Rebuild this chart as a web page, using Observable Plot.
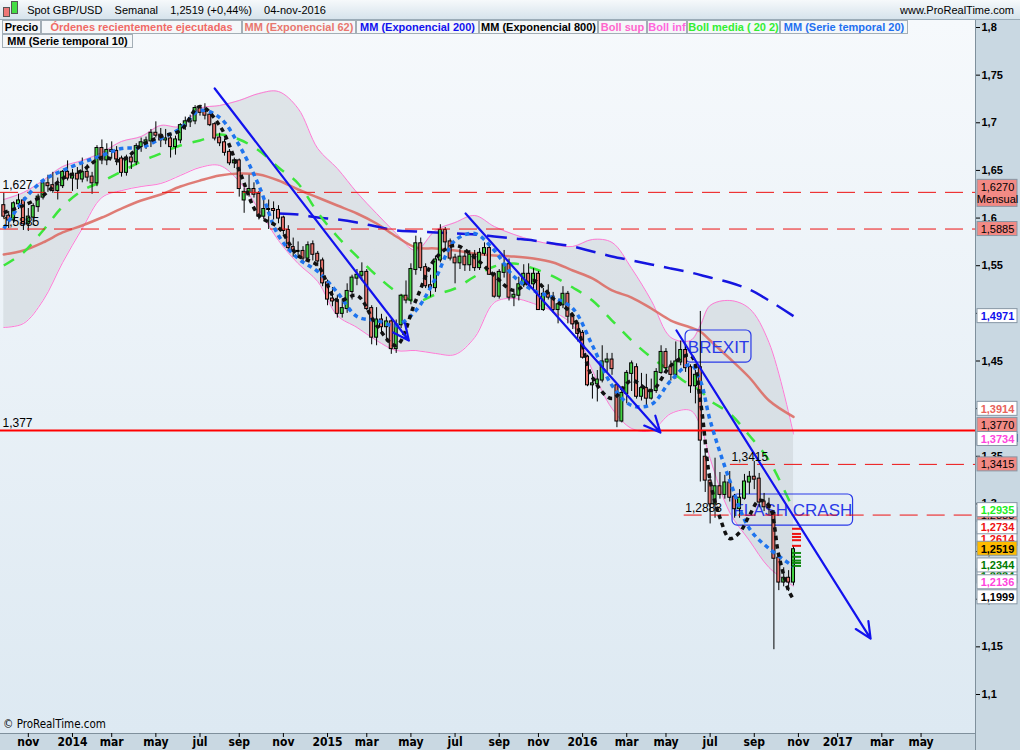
<!DOCTYPE html>
<html>
<head>
<meta charset="utf-8">
<script src="https://cdn.jsdelivr.net/npm/d3@7"></script>
<script src="https://cdn.jsdelivr.net/npm/@observablehq/plot@0.6"></script>
<style>
  body { margin: 0; background: #fff; }
  #wrap { position: relative; width: 1020px; height: 750px; overflow: hidden; font-family: "Liberation Sans", Arial, sans-serif; color: #000; }
  .bg { position: absolute; box-sizing: border-box; }
  #hdr { left: 0; top: 0; width: 1020px; height: 20px; background: linear-gradient(#f6f9fb, #d6e3ec); border-bottom: 1px solid #9aabb7; }
  #plotbg { left: 0; top: 20px; width: 975px; height: 713px; background: linear-gradient(#f6f9fc, #dde9f2); }
  #rpanel { left: 975px; top: 20px; width: 45px; height: 730px; background: #c9d8e2; border-left: 1px solid #7f909c; }
  #bpanel { left: 0; top: 733px; width: 975px; height: 17px; background: #c9d8e2; border-top: 1px solid #7f909c; }
  #chart { position: absolute; left: 0; top: 0; }
  #chart svg { display: block; }
  #hdrtext { position: absolute; left: 0; top: 0; height: 20px; line-height: 21px; font-size: 11px; white-space: pre; }
  #site { position: absolute; right: 6px; top: 0; height: 20px; line-height: 21px; font-size: 11px; }
  .leg { position: absolute; height: 14px; line-height: 13px; font-size: 11px; font-weight: bold; text-align: center; background: #f4f7f9; border: 1px solid #a3aeb6; box-sizing: border-box; white-space: nowrap; overflow: visible; }
  #copy { position: absolute; left: 3px; top: 717px; font-family: "Liberation Sans Narrow", "DejaVu Sans Condensed", sans-serif; font-size: 11.5px; }
  [aria-label^="x-axis"] text { font-family: "Liberation Sans Narrow", "DejaVu Sans Condensed", sans-serif; font-size: 12px; font-weight: bold; }
  [aria-label^="y-axis"] text { font-family: "Liberation Sans", Arial, sans-serif; font-size: 11px; font-weight: bold; }
</style>
</head>
<body>
<div id="wrap">
  <div class="bg" id="hdr"></div>
  <div class="bg" id="plotbg"></div>
  <div class="bg" id="rpanel"></div>
  <div class="bg" id="bpanel"></div>
  <div id="chart"></div>
  <div id="hdrtext"><span style="display:inline-block;width:5px;height:8px;background:#e77;border:1px solid #555;margin-left:3px;vertical-align:-3px"></span><span style="display:inline-block;width:5px;height:11px;background:#4d4;border:1px solid #555;margin-left:1px;vertical-align:0px"></span>   Spot GBP/USD    Semanal    1,2519 (+0,44%)    04-nov-2016</div>
  <div id="site">www.ProRealTime.com</div>
  <div class="leg" style="left:2px;top:20px;width:39px;color:#000">Precio</div>
  <div class="leg" style="left:41px;top:20px;width:201px;color:#f06a66">Órdenes recientemente ejecutadas</div>
  <div class="leg" style="left:242px;top:20px;width:114px;color:#e8776f">MM (Exponencial 62)</div>
  <div class="leg" style="left:356px;top:20px;width:123px;color:#1111ee">MM (Exponencial 200)</div>
  <div class="leg" style="left:479px;top:20px;width:119px;color:#000">MM (Exponencial 800)</div>
  <div class="leg" style="left:598px;top:20px;width:49px;color:#ff66cc">Boll sup</div>
  <div class="leg" style="left:647px;top:20px;width:40px;color:#ff66dd">Boll inf</div>
  <div class="leg" style="left:687px;top:20px;width:93px;color:#33ee33">Boll media ( 20 2)</div>
  <div class="leg" style="left:780px;top:20px;width:128px;color:#1f70f0">MM (Serie temporal 20)</div>
  <div class="leg" style="left:2px;top:34px;width:131px;color:#000">MM (Serie temporal 10)</div>
  <div id="copy">© ProRealTime.com</div>
</div>
<script>
// ---------- weekly candles (week starting Monday 2013-09-30) ----------
const firstWeek = "2013-09-30";
const open = [
1.613,1.602,1.598,1.615,1.618,1.594,1.601,1.612,1.622,1.636,
1.634,1.629,1.634,1.648,1.642,1.646,1.641,1.648,1.643,1.637,
1.673,1.661,1.671,1.670,1.662,1.648,1.663,1.659,1.675,1.679,
1.681,1.689,1.687,1.682,1.683,1.675,1.682,1.697,1.701,1.702,
1.715,1.711,1.708,1.698,1.684,1.679,1.669,1.658,1.660,1.619,
1.627,1.630,1.625,1.602,1.609,1.609,1.608,1.600,1.587,1.569,
1.565,1.565,1.558,1.572,1.562,1.555,1.532,1.515,1.513,1.500,
1.505,1.523,1.537,1.540,1.543,1.505,1.475,1.493,1.486,1.491,
1.463,1.488,1.518,1.514,1.546,1.573,1.548,1.529,1.527,1.556,
1.587,1.575,1.558,1.553,1.559,1.551,1.561,1.548,1.563,1.568,
1.541,1.518,1.543,1.551,1.517,1.519,1.530,1.541,1.531,1.541,
1.504,1.520,1.517,1.504,1.509,1.520,1.497,1.489,1.479,1.454,
1.425,1.426,1.430,1.449,1.451,1.424,1.387,1.416,1.437,1.443,
1.413,1.421,1.411,1.419,1.438,1.459,1.443,1.436,1.449,1.461,
1.443,1.424,1.443,1.349,1.324,1.300,1.318,1.310,1.322,1.307,
1.295,1.306,1.323,1.328,1.326,1.302,1.297,1.290,1.243,1.218,
1.222,1.218];
const high = [
1.626,1.607,1.617,1.625,1.621,1.610,1.615,1.625,1.638,1.645,
1.648,1.642,1.650,1.660,1.651,1.653,1.663,1.656,1.648,1.676,
1.682,1.678,1.680,1.675,1.665,1.666,1.669,1.678,1.684,1.685,
1.693,1.701,1.694,1.693,1.686,1.686,1.699,1.706,1.708,1.718,
1.718,1.720,1.711,1.700,1.689,1.683,1.672,1.663,1.662,1.631,
1.645,1.637,1.628,1.621,1.619,1.617,1.613,1.602,1.592,1.579,
1.575,1.570,1.575,1.576,1.565,1.558,1.535,1.527,1.519,1.515,
1.531,1.540,1.546,1.553,1.546,1.508,1.506,1.499,1.496,1.494,
1.493,1.520,1.534,1.552,1.581,1.579,1.552,1.540,1.560,1.593,
1.590,1.578,1.562,1.567,1.566,1.566,1.566,1.568,1.574,1.570,
1.543,1.546,1.566,1.557,1.522,1.538,1.551,1.552,1.547,1.544,
1.526,1.530,1.522,1.511,1.528,1.523,1.499,1.492,1.482,1.456,
1.436,1.440,1.466,1.458,1.458,1.425,1.423,1.440,1.450,1.447,
1.437,1.436,1.431,1.442,1.466,1.463,1.450,1.470,1.471,1.467,
1.446,1.440,1.502,1.353,1.332,1.348,1.333,1.330,1.334,1.310,
1.315,1.331,1.334,1.3445,1.332,1.311,1.306,1.293,1.246,1.233,
1.230,1.256];
const low = [
1.599,1.589,1.594,1.609,1.587,1.586,1.592,1.606,1.619,1.627,
1.626,1.619,1.631,1.639,1.628,1.630,1.637,1.638,1.625,1.633,
1.656,1.655,1.662,1.655,1.643,1.644,1.651,1.655,1.669,1.672,
1.674,1.684,1.674,1.677,1.663,1.666,1.678,1.692,1.695,1.698,
1.707,1.703,1.696,1.681,1.675,1.665,1.655,1.652,1.622,1.605,
1.622,1.621,1.598,1.598,1.588,1.598,1.594,1.582,1.565,1.559,
1.559,1.553,1.556,1.555,1.549,1.528,1.508,1.507,1.495,1.495,
1.500,1.514,1.529,1.534,1.503,1.467,1.466,1.479,1.470,1.457,
1.458,1.484,1.510,1.509,1.540,1.544,1.526,1.517,1.522,1.553,
1.567,1.555,1.531,1.546,1.544,1.544,1.544,1.545,1.560,1.540,
1.516,1.515,1.537,1.513,1.507,1.513,1.527,1.525,1.525,1.503,
1.502,1.514,1.500,1.489,1.505,1.489,1.483,1.470,1.452,1.423,
1.410,1.407,1.427,1.438,1.435,1.380,1.385,1.405,1.418,1.410,
1.408,1.401,1.409,1.416,1.436,1.437,1.429,1.431,1.445,1.438,
1.416,1.405,1.323,1.312,1.279,1.285,1.305,1.305,1.302,1.285,
1.285,1.304,1.310,1.315,1.296,1.292,1.288,1.147,1.209,1.213,
1.208,1.214];
const close = [
1.602,1.598,1.615,1.618,1.594,1.601,1.612,1.622,1.636,1.634,
1.629,1.634,1.648,1.642,1.646,1.641,1.648,1.643,1.637,1.673,
1.661,1.671,1.670,1.662,1.648,1.663,1.659,1.675,1.679,1.681,
1.689,1.687,1.682,1.683,1.675,1.682,1.697,1.701,1.702,1.715,
1.711,1.708,1.698,1.684,1.679,1.669,1.658,1.660,1.631,1.627,
1.630,1.625,1.602,1.609,1.609,1.608,1.600,1.587,1.569,1.565,
1.565,1.558,1.571,1.562,1.555,1.532,1.515,1.513,1.500,1.505,
1.523,1.537,1.540,1.543,1.505,1.475,1.493,1.486,1.491,1.463,
1.488,1.518,1.514,1.546,1.573,1.548,1.529,1.527,1.556,1.587,
1.575,1.558,1.553,1.559,1.551,1.561,1.548,1.563,1.568,1.541,
1.518,1.543,1.551,1.517,1.519,1.530,1.541,1.531,1.541,1.504,
1.520,1.517,1.504,1.509,1.520,1.497,1.489,1.479,1.454,1.425,
1.426,1.430,1.449,1.451,1.442,1.387,1.416,1.437,1.447,1.413,
1.421,1.411,1.419,1.438,1.459,1.443,1.436,1.449,1.461,1.443,
1.424,1.435,1.367,1.325,1.300,1.318,1.310,1.322,1.307,1.295,
1.306,1.323,1.328,1.326,1.302,1.297,1.296,1.243,1.218,1.222,
1.218,1.2519];

// ---------- indicators, read at sampled weeks (week index) ----------
const sampleWeeks = [0,4,8,12,16,20,24,28,32,36,40,44,48,52,56,60,64,68,72,76,80,84,88,92,96,100,104,108,112,116,120,124,128,132,136,140,142,144,148,152,156,161];
const bollSup = [1.6195,1.6268,1.6394,1.6541,1.6604,1.6688,1.6804,1.6856,1.6972,1.6961,1.7150,1.7181,1.7234,1.7307,1.7328,1.7150,1.6730,1.6520,1.6268,1.6048,1.5838,1.5660,1.5870,1.5953,1.6027,1.5911,1.5828,1.5765,1.5723,1.5702,1.5775,1.5744,1.5471,1.5135,1.4747,1.4715,1.4873,1.5082,1.5135,1.5051,1.4694,1.3734];
const bollInf = [1.4852,1.4893,1.5135,1.5534,1.5891,1.6216,1.6289,1.6331,1.6363,1.6447,1.6531,1.6552,1.6384,1.6090,1.5765,1.5523,1.5334,1.4977,1.4852,1.4715,1.4610,1.4610,1.4579,1.4568,1.4747,1.5114,1.5156,1.5103,1.5019,1.4873,1.4400,1.4001,1.3792,1.3771,1.3949,1.3981,1.3823,1.3477,1.2910,1.2616,1.2333,1.2136];
const bollMedia = [1.5502,1.5639,1.5870,1.6121,1.6289,1.6384,1.6489,1.6594,1.6678,1.6762,1.6814,1.6877,1.6825,1.6709,1.6531,1.6363,1.6058,1.5807,1.5597,1.5397,1.5229,1.5124,1.5198,1.5261,1.5387,1.5492,1.5523,1.5471,1.5387,1.5271,1.5135,1.4925,1.4715,1.4537,1.4390,1.4243,1.4190,1.4085,1.3949,1.3718,1.3456,1.2935];
const ema62 = [1.5618,1.5660,1.5744,1.5849,1.5922,1.6006,1.6100,1.6184,1.6247,1.6331,1.6394,1.6447,1.6468,1.6457,1.6394,1.6300,1.6216,1.6132,1.6048,1.5943,1.5807,1.5691,1.5681,1.5660,1.5628,1.5607,1.5597,1.5576,1.5534,1.5450,1.5366,1.5240,1.5166,1.5051,1.4925,1.4852,1.4810,1.4715,1.4526,1.4327,1.4085,1.3914];
const st20 = [1.5891,1.6184,1.6394,1.6499,1.6583,1.6657,1.6730,1.6741,1.6835,1.6940,1.7129,1.7055,1.6762,1.6342,1.5817,1.5576,1.5439,1.5219,1.4967,1.4925,1.4873,1.5030,1.5366,1.5765,1.5838,1.5660,1.5387,1.5240,1.5166,1.5051,1.4663,1.4243,1.4033,1.4043,1.4295,1.4463,1.4295,1.3876,1.3246,1.2742,1.2532,1.2344];
const ema200Weeks = [56,60,64,68,72,76,80,84,88,92,96,100,104,108,112,116,120,124,128,132,136,140,144,148,152,156,161];
const ema200 = [1.6048,1.6037,1.6006,1.5985,1.5953,1.5911,1.5870,1.5859,1.5849,1.5838,1.5828,1.5807,1.5786,1.5765,1.5733,1.5702,1.5649,1.5597,1.5555,1.5513,1.5471,1.5429,1.5376,1.5324,1.5250,1.5135,1.4971];
const st10Weeks = [0,4,8,12,16,20,24,28,32,36,40,44,48,52,56,60,64,68,72,76,80,84,88,92,96,100,104,108,112,116,120,124,128,132,136,140,142,144,146,148,150,152,154,156,158,160,161];
const st10 = [1.6058,1.6132,1.6237,1.6415,1.6499,1.6636,1.6604,1.6762,1.6856,1.6919,1.7171,1.6972,1.6499,1.6027,1.5901,1.5607,1.5502,1.5135,1.5187,1.4873,1.4663,1.5135,1.5576,1.5712,1.5586,1.5397,1.5240,1.5345,1.5156,1.4977,1.4327,1.4106,1.4295,1.4191,1.4453,1.4558,1.4085,1.3246,1.2857,1.2637,1.2700,1.2878,1.3036,1.2983,1.2459,1.2091,1.1999];

// ---------- drawn levels / annotations ----------
const levelsFull = [1.627, 1.5885];
const levelsFullText = ["1,627", "1,5885"];
const levelSolid = 1.377;
const levelSolidText = "1,377";
const levelsPart = [1.3415, 1.2883];
const levelsPartText = ["1,3415", "1,2883"];
const levelsPartStart = ["2016-08-02", "2016-05-28"];
const trendStart = ["2014-07-28", "2015-07-21", "2016-05-17"];
const trendStartPrice = [1.736, 1.6048, 1.482];
const trendEnd = ["2015-05-01", "2016-04-24", "2017-02-18"];
const trendEndPrice = [1.4715, 1.3749, 1.1587];
const boxText = ["BREXIT", "FLASH CRASH"];
const boxFrom = ["2016-05-30", "2016-08-05"];
const boxTo = ["2016-09-01", "2017-01-24"];
const boxTop = [1.482, 1.3099];
const boxBottom = [1.4484, 1.2773];
const boxTextDate = ["2016-07-16", "2016-10-30"];
const boxTextPrice = [1.4642, 1.2931];
const ordersSell = [1.2734, 1.2680, 1.2648, 1.2614, 1.2555];
const ordersBuy = [1.2480, 1.2440, 1.2400, 1.2375, 1.2344];

// ---------- right-axis value tags ----------
const tagValues = [1.6270, 1.5885, 1.4971, 1.3770, 1.3914, 1.3734, 1.3415, 1.2883, 1.2614, 1.2334, 1.2935, 1.2734, 1.2519, 1.2344, 1.2136, 1.1999];
const tagSuffix = ["Mensual", "", "", "Mensual", "", "", "", "", "", "", "", "", "", "", "", ""];
const tagBg = ["#f28a85","#f28a85","#ffffff","#f28a85","#ffffff","#ffffff","#f28a85","#f28a85","#ffffff","#ffffff","#ffffff","#ffffff","#ffbb00","#ffffff","#ffffff","#ffffff"];
const tagFg = ["#000","#000","#1111ee","#000","#e8625a","#ff44dd","#000","#000","#ee1111","#007a00","#22ee22","#ee1111","#000","#007a00","#ff44dd","#000"];
const tagBold = [false,false,true,false,true,true,false,false,true,true,true,true,true,true,true,true];
const tagNudgePx = [1,0,0,1,-8,5,0,0,-2,9,0,-2,-1,-1,-4,-2];

// ---------- axis ticks ----------
const xTickDates = ["2013-11-04","2014-01-06","2014-03-03","2014-05-05","2014-07-07","2014-09-01","2014-11-03","2015-01-05","2015-03-02","2015-05-04","2015-07-06","2015-09-07","2015-11-02","2016-01-04","2016-03-07","2016-05-02","2016-07-04","2016-09-05","2016-11-07","2017-01-02","2017-03-06","2017-05-01"];
const xTickLabels = ["nov","2014","mar","may","jul","sep","nov","2015","mar","may","jul","sep","nov","2016","mar","may","jul","sep","nov","2017","mar","may"];
const yTicks = [1.1,1.15,1.2,1.25,1.3,1.35,1.4,1.45,1.5,1.55,1.6,1.65,1.7,1.75,1.8];

// ---------- build ----------
const D = s => new Date(s);
const t0 = D(firstWeek).getTime();
const weekDate = k => new Date(t0 + k * 7 * 864e5);
const candles = close.map((c, i) => ({date: weekDate(i), open: open[i], high: high[i], low: low[i], close: c}));
const band = sampleWeeks.map((k, j) => ({date: weekDate(k), hi: bollSup[j], lo: bollInf[j], mid: bollMedia[j], ema: ema62[j], st: st20[j]}));
const e200 = ema200Weeks.map((k, j) => ({date: weekDate(k), v: ema200[j]}));
const s10 = st10Weeks.map((k, j) => ({date: weekDate(k), v: st10[j]}));
const trends = trendStart.map((s, j) => ({x1: D(s), y1: trendStartPrice[j], x2: D(trendEnd[j]), y2: trendEndPrice[j]}));
const boxes = boxText.map((t, j) => ({t, x1: D(boxFrom[j]), x2: D(boxTo[j]), y1: boxTop[j], y2: boxBottom[j], tx: D(boxTextDate[j]), ty: boxTextPrice[j]}));
const lastDate = weekDate(close.length - 1);
const orders = [...ordersSell.map(v => ({v, c: "#ee1111"})), ...ordersBuy.map(v => ({v, c: "#118a11"}))];

const xStart = D("2013-09-25T07:00:00Z"), xEnd = D("2017-07-17T17:00:00Z");
const yLo = 1.05907, yHi = 1.80735;
const plotTop = 20, plotBottom = 733;
const pxPerUnit = (plotBottom - plotTop) / (yHi - yLo);
const tickLabel = new Map(xTickDates.map((d, i) => [+D(d), xTickLabels[i]]));
const comma = v => String(v).replace(".", ",");

const tagMarks = tagValues.flatMap((v, j) => {
  const two = tagSuffix[j] !== "";
  const h = two ? 27 : 14;
  const row = [{v: v - tagNudgePx[j] / pxPerUnit, t: v.toFixed(4).replace(".", ",") + (two ? "\n" + tagSuffix[j] : "")}];
  return [
    Plot.rect(row, {x1: () => xEnd, x2: () => xEnd, y1: "v", y2: "v", insetLeft: 2, insetRight: -42, insetTop: -h / 2, insetBottom: -h / 2, fill: tagBg[j], stroke: "#8797a5", strokeWidth: 1}),
    Plot.text(row, {x: () => xEnd, y: "v", text: "t", dx: 22, fill: tagFg[j], fontWeight: tagBold[j] ? "bold" : "normal", fontSize: 11, lineHeight: 1.12})
  ];
});

const dash = {strokeLinecap: "butt", strokeLinejoin: "round", curve: "catmull-rom"};

const chart = Plot.plot({
  width: 1020, height: 750,
  marginTop: plotTop, marginBottom: 750 - plotBottom, marginLeft: 0, marginRight: 45,
  style: {background: "transparent", color: "#000", fontFamily: "Liberation Sans, Arial, sans-serif", fontSize: "11px"},
  color: {type: "identity"},
  x: {type: "utc", domain: [xStart, xEnd], ticks: xTickDates.map(D), tickFormat: d => tickLabel.get(+d) ?? "", tickSize: 4, tickPadding: 0, label: null},
  y: {domain: [yLo, yHi], axis: "right", ticks: yTicks, tickFormat: comma, tickSize: 4, tickPadding: 2, label: null},
  marks: [
    Plot.areaY(band, {x: "date", y1: "lo", y2: "hi", fill: "#c6cbd0", fillOpacity: 0.45, curve: "catmull-rom"}),
    Plot.line(band, {x: "date", y: "hi", stroke: "#ff7ad5", strokeWidth: 1, curve: "catmull-rom"}),
    Plot.line(band, {x: "date", y: "lo", stroke: "#ff7ad5", strokeWidth: 1, curve: "catmull-rom"}),
    Plot.line(band, {x: "date", y: "ema", stroke: "#dc665e", strokeOpacity: 0.85, strokeWidth: 2.5, curve: "catmull-rom"}),
    Plot.line(e200, {x: "date", y: "v", stroke: "#1515e0", strokeWidth: 2.5, strokeDasharray: "20,10", ...dash}),
    Plot.line(band, {x: "date", y: "mid", stroke: "#3ce63c", strokeWidth: 2.5, strokeDasharray: "12,11", ...dash}),
    Plot.rect(boxes, {x1: "x1", x2: "x2", y1: "y1", y2: "y2", fill: "none", stroke: "#2a3ae8", strokeWidth: 1.2, rx: 5}),
    Plot.text(boxes, {x: "tx", y: "ty", text: "t", fill: "#2a3ae8", fontSize: 17}),
    Plot.ruleX(candles, {x: "date", y1: "low", y2: "high", stroke: "#000", strokeWidth: 1}),
    Plot.rect(candles, {x1: "date", x2: "date", y1: "open", y2: "close", fill: d => d.close >= d.open ? "#43d243" : "#e8736c", stroke: "#000", strokeWidth: 1, insetLeft: -1.5, insetRight: -1.5, insetTop: -0.5, insetBottom: -0.5}),
    Plot.ruleY(levelsFull, {stroke: "#ee1111", strokeWidth: 1, strokeDasharray: "18,9"}),
    Plot.ruleY([levelSolid], {stroke: "#ff0000", strokeWidth: 2}),
    Plot.ruleY(levelsPart, {x1: (d, i) => D(levelsPartStart[i]), x2: () => xEnd, stroke: "#ee1111", strokeWidth: 1, strokeDasharray: "18,9"}),
    Plot.line(band, {x: "date", y: "st", stroke: "#1e74ee", strokeWidth: 3.5, strokeDasharray: "4.5,4", ...dash}),
    Plot.line(s10, {x: "date", y: "v", stroke: "#111", strokeWidth: 3.5, strokeDasharray: "4.5,4", ...dash}),
    Plot.arrow(trends, {x1: "x1", y1: "y1", x2: "x2", y2: "y2", stroke: "#1212ee", strokeWidth: 2.2, headLength: 12, headAngle: 50}),
    Plot.text(levelsFull, {x: () => xStart, y: d => d, text: (d, i) => levelsFullText[i], dx: 2, dy: -7, textAnchor: "start", fontSize: 12, fill: "#000"}),
    Plot.text([levelSolid], {x: () => xStart, y: d => d, text: () => levelSolidText, dx: 2, dy: -7, textAnchor: "start", fontSize: 12, fill: "#000"}),
    Plot.text(levelsPart, {x: (d, i) => D(levelsPartStart[i]), y: d => d, text: (d, i) => levelsPartText[i], dx: 1, dy: -7, textAnchor: "start", fontSize: 12, fill: "#000"}),
    Plot.rect(orders, {x1: () => lastDate, x2: () => lastDate, y1: "v", y2: "v", fill: "c", insetLeft: -1, insetRight: -8, insetTop: -1, insetBottom: -1}),
    ...tagMarks
  ]
});
document.getElementById("chart").appendChild(chart);
</script>
</body>
</html>
